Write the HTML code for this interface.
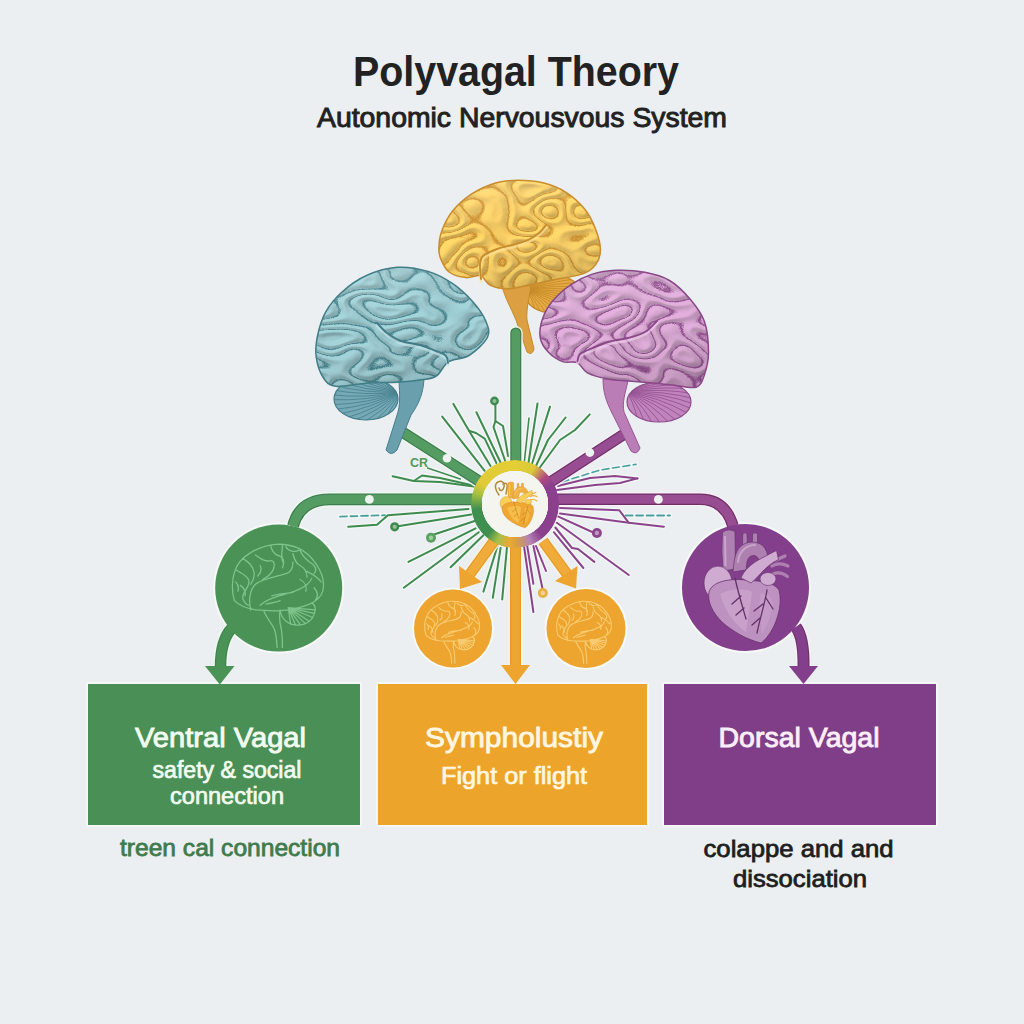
<!DOCTYPE html>
<html><head><meta charset="utf-8">
<style>
html,body{margin:0;padding:0;background:#ebeff1;}
body{width:1024px;height:1024px;overflow:hidden;position:relative;font-family:"Liberation Sans",sans-serif;}
svg{position:absolute;left:0;top:0;}
text{font-family:"Liberation Sans",sans-serif;}
.ring{position:absolute;left:471px;top:459.5px;width:88px;height:88px;border-radius:50%;
background:conic-gradient(from 0deg,#e4cf36 0deg,#dcc83a 28deg,#b04a80 48deg,#8b408d 62deg,#8b408d 140deg,#b585b5 158deg,#d8a040 178deg,#eca834 188deg,#a8c048 205deg,#3f8f4f 222deg,#3f8f4f 262deg,#a8c040 285deg,#e0ca38 300deg,#e4cf36 360deg);
-webkit-mask:radial-gradient(circle,transparent 0 33px,#000 33.5px);mask:radial-gradient(circle,transparent 0 33px,#000 33.5px);}
.inner{position:absolute;left:482px;top:470.5px;width:66px;height:66px;border-radius:50%;background:#f5f5f0;}
</style></head>
<body>
<svg width="1024" height="1024" viewBox="0 0 1024 1024">
<rect x="0" y="0" width="1024" height="1024" fill="#ebeff1"/>

<!-- title -->
<text x="353" y="86" font-size="42" font-weight="bold" fill="#222" textLength="326" lengthAdjust="spacingAndGlyphs">Polyvagal Theory</text>
<text x="317" y="126.5" font-size="27.5" fill="#222" stroke="#222" stroke-width="0.95" textLength="410" lengthAdjust="spacingAndGlyphs">Autonomic Nervousvous System</text>

<path d="M484.7 470.8 L442.2 416.6" stroke="#f8fbf8" stroke-width="4.6" fill="none" stroke-linecap="round" stroke-linejoin="round" opacity="0.7"/>
<path d="M490.5 466.0 L469.0 430.8 L453.4 403.9" stroke="#f8fbf8" stroke-width="4.6" fill="none" stroke-linecap="round" stroke-linejoin="round" opacity="0.7"/>
<path d="M496.4 463.0 L484.7 438.6 L476.0 433.0 L469.0 430.8" stroke="#f8fbf8" stroke-width="4.6" fill="none" stroke-linecap="round" stroke-linejoin="round" opacity="0.7"/>
<path d="M500.3 462.0 L476.4 412.2" stroke="#f8fbf8" stroke-width="4.6" fill="none" stroke-linecap="round" stroke-linejoin="round" opacity="0.7"/>
<path d="M505.2 461.0 L493.5 427.0 L495.4 421.0 L495.4 404.0" stroke="#f8fbf8" stroke-width="4.6" fill="none" stroke-linecap="round" stroke-linejoin="round" opacity="0.7"/>
<path d="M508.1 456.2 L503.0 426.0 L495.4 421.0" stroke="#f8fbf8" stroke-width="4.6" fill="none" stroke-linecap="round" stroke-linejoin="round" opacity="0.7"/>
<path d="M474.0 486.5 L440.0 482.0 L413.8 481.0 L392.6 476.2" stroke="#f8fbf8" stroke-width="4.6" fill="none" stroke-linecap="round" stroke-linejoin="round" opacity="0.7"/>
<path d="M471.3 485.0 L440.0 478.0 L422.0 475.5 L413.8 481.0" stroke="#f8fbf8" stroke-width="4.6" fill="none" stroke-linecap="round" stroke-linejoin="round" opacity="0.7"/>
<path d="M460.3 479.0 L427.5 468.0" stroke="#f8fbf8" stroke-width="4.0" fill="none" stroke-linecap="round" stroke-linejoin="round" opacity="0.7"/>
<path d="M340.0 516.6 L385.0 515.2" stroke="#f8fbf8" stroke-width="4.4" fill="none" stroke-linecap="round" stroke-linejoin="round" opacity="0.7"/>
<path d="M468.5 509.0 L387.9 515.2 L377.0 524.8 L348.2 526.8" stroke="#f8fbf8" stroke-width="4.6" fill="none" stroke-linecap="round" stroke-linejoin="round" opacity="0.7"/>
<path d="M471.3 514.5 L394.7 526.8" stroke="#f8fbf8" stroke-width="4.6" fill="none" stroke-linecap="round" stroke-linejoin="round" opacity="0.7"/>
<path d="M475.4 520.7 L430.2 535.7" stroke="#f8fbf8" stroke-width="4.6" fill="none" stroke-linecap="round" stroke-linejoin="round" opacity="0.7"/>
<path d="M475.6 528.3 L408.4 561.9" stroke="#f8fbf8" stroke-width="4.6" fill="none" stroke-linecap="round" stroke-linejoin="round" opacity="0.7"/>
<path d="M478.8 532.2 L403.8 587.7" stroke="#f8fbf8" stroke-width="4.6" fill="none" stroke-linecap="round" stroke-linejoin="round" opacity="0.7"/>
<path d="M483.4 535.3 L450.6 567.3" stroke="#f8fbf8" stroke-width="4.6" fill="none" stroke-linecap="round" stroke-linejoin="round" opacity="0.7"/>
<path d="M497.5 546.0 L483.4 591.6" stroke="#f8fbf8" stroke-width="4.6" fill="none" stroke-linecap="round" stroke-linejoin="round" opacity="0.7"/>
<path d="M500.6 547.8 L492.8 597.8" stroke="#f8fbf8" stroke-width="4.6" fill="none" stroke-linecap="round" stroke-linejoin="round" opacity="0.7"/>
<path d="M506.9 547.8 L502.2 599.4" stroke="#f8fbf8" stroke-width="4.6" fill="none" stroke-linecap="round" stroke-linejoin="round" opacity="0.7"/>
<path d="M528.0 466.0 L537.5 403.4" stroke="#f8fbf8" stroke-width="4.6" fill="none" stroke-linecap="round" stroke-linejoin="round" opacity="0.7"/>
<path d="M531.0 467.0 L550.0 406.6" stroke="#f8fbf8" stroke-width="4.6" fill="none" stroke-linecap="round" stroke-linejoin="round" opacity="0.7"/>
<path d="M535.0 468.0 L548.0 440.0 L565.6 417.5" stroke="#f8fbf8" stroke-width="4.6" fill="none" stroke-linecap="round" stroke-linejoin="round" opacity="0.7"/>
<path d="M538.0 470.0 L560.0 440.0 L575.0 430.0 L589.8 414.4" stroke="#f8fbf8" stroke-width="4.6" fill="none" stroke-linecap="round" stroke-linejoin="round" opacity="0.7"/>
<path d="M524.0 465.0 L529.0 418.0" stroke="#f8fbf8" stroke-width="4.2" fill="none" stroke-linecap="round" stroke-linejoin="round" opacity="0.7"/>
<path d="M557.8 486.0 L590.0 478.0 L615.0 476.0 L637.5 478.4" stroke="#f8fbf8" stroke-width="4.6" fill="none" stroke-linecap="round" stroke-linejoin="round" opacity="0.7"/>
<path d="M557.0 490.0 L595.0 485.0 L620.0 483.0 L637.5 478.4" stroke="#f8fbf8" stroke-width="4.6" fill="none" stroke-linecap="round" stroke-linejoin="round" opacity="0.7"/>
<path d="M562.0 482.0 L600.0 470.0 L636.0 464.4" stroke="#f8fbf8" stroke-width="4.2" fill="none" stroke-linecap="round" stroke-linejoin="round" opacity="0.7"/>
<path d="M560.0 508.0 L619.4 510.3 L628.8 522.8 L663.9 526.7" stroke="#f8fbf8" stroke-width="4.6" fill="none" stroke-linecap="round" stroke-linejoin="round" opacity="0.7"/>
<path d="M560.0 513.4 L628.8 522.8" stroke="#f8fbf8" stroke-width="4.6" fill="none" stroke-linecap="round" stroke-linejoin="round" opacity="0.7"/>
<path d="M625.6 515.5 L670.0 515.5" stroke="#f8fbf8" stroke-width="4.4" fill="none" stroke-linecap="round" stroke-linejoin="round" opacity="0.7"/>
<path d="M558.4 516.6 L594.4 533.0" stroke="#f8fbf8" stroke-width="4.6" fill="none" stroke-linecap="round" stroke-linejoin="round" opacity="0.7"/>
<path d="M556.9 522.8 L628.8 575.0" stroke="#f8fbf8" stroke-width="4.6" fill="none" stroke-linecap="round" stroke-linejoin="round" opacity="0.7"/>
<path d="M555.3 527.5 L572.0 548.0 L578.0 549.0 L594.4 561.9" stroke="#f8fbf8" stroke-width="4.6" fill="none" stroke-linecap="round" stroke-linejoin="round" opacity="0.7"/>
<path d="M553.8 532.2 L583.4 568.0" stroke="#f8fbf8" stroke-width="4.6" fill="none" stroke-linecap="round" stroke-linejoin="round" opacity="0.7"/>
<path d="M524.0 546.0 L533.4 612.0" stroke="#f8fbf8" stroke-width="4.6" fill="none" stroke-linecap="round" stroke-linejoin="round" opacity="0.7"/>
<path d="M527.2 546.0 L533.4 583.8" stroke="#f8fbf8" stroke-width="4.6" fill="none" stroke-linecap="round" stroke-linejoin="round" opacity="0.7"/>
<path d="M533.4 546.0 L542.8 590.0" stroke="#f8fbf8" stroke-width="4.6" fill="none" stroke-linecap="round" stroke-linejoin="round" opacity="0.7"/>
<path d="M536.0 546.0 L546.0 571.0" stroke="#f8fbf8" stroke-width="4.6" fill="none" stroke-linecap="round" stroke-linejoin="round" opacity="0.7"/>
<path d="M484.7 470.8 L442.2 416.6" stroke="#3f8b4f" stroke-width="2.0" fill="none" stroke-linecap="round" stroke-linejoin="round"/>
<path d="M490.5 466.0 L469.0 430.8 L453.4 403.9" stroke="#3f8b4f" stroke-width="2.0" fill="none" stroke-linecap="round" stroke-linejoin="round"/>
<path d="M496.4 463.0 L484.7 438.6 L476.0 433.0 L469.0 430.8" stroke="#3f8b4f" stroke-width="2.0" fill="none" stroke-linecap="round" stroke-linejoin="round"/>
<path d="M500.3 462.0 L476.4 412.2" stroke="#3f8b4f" stroke-width="2.0" fill="none" stroke-linecap="round" stroke-linejoin="round"/>
<path d="M505.2 461.0 L493.5 427.0 L495.4 421.0 L495.4 404.0" stroke="#3f8b4f" stroke-width="2.0" fill="none" stroke-linecap="round" stroke-linejoin="round"/>
<path d="M508.1 456.2 L503.0 426.0 L495.4 421.0" stroke="#3f8b4f" stroke-width="2.0" fill="none" stroke-linecap="round" stroke-linejoin="round"/>
<path d="M474.0 486.5 L440.0 482.0 L413.8 481.0 L392.6 476.2" stroke="#3f8b4f" stroke-width="2.0" fill="none" stroke-linecap="round" stroke-linejoin="round"/>
<path d="M471.3 485.0 L440.0 478.0 L422.0 475.5 L413.8 481.0" stroke="#3f8b4f" stroke-width="2.0" fill="none" stroke-linecap="round" stroke-linejoin="round"/>
<path d="M460.3 479.0 L427.5 468.0" stroke="#3f8b4f" stroke-width="1.4" fill="none" stroke-linecap="round" stroke-linejoin="round"/>
<path d="M340.0 516.6 L385.0 515.2" stroke="#4aa0a0" stroke-width="1.8" fill="none" stroke-linecap="round" stroke-linejoin="round" stroke-dasharray="7 3.5"/>
<path d="M468.5 509.0 L387.9 515.2 L377.0 524.8 L348.2 526.8" stroke="#3f8b4f" stroke-width="2.0" fill="none" stroke-linecap="round" stroke-linejoin="round"/>
<path d="M471.3 514.5 L394.7 526.8" stroke="#3f8b4f" stroke-width="2.0" fill="none" stroke-linecap="round" stroke-linejoin="round"/>
<path d="M475.4 520.7 L430.2 535.7" stroke="#3f8b4f" stroke-width="2.0" fill="none" stroke-linecap="round" stroke-linejoin="round"/>
<path d="M475.6 528.3 L408.4 561.9" stroke="#3f8b4f" stroke-width="2.0" fill="none" stroke-linecap="round" stroke-linejoin="round"/>
<path d="M478.8 532.2 L403.8 587.7" stroke="#3f8b4f" stroke-width="2.0" fill="none" stroke-linecap="round" stroke-linejoin="round"/>
<path d="M483.4 535.3 L450.6 567.3" stroke="#3f8b4f" stroke-width="2.0" fill="none" stroke-linecap="round" stroke-linejoin="round"/>
<path d="M497.5 546.0 L483.4 591.6" stroke="#3f8b4f" stroke-width="2.0" fill="none" stroke-linecap="round" stroke-linejoin="round"/>
<path d="M500.6 547.8 L492.8 597.8" stroke="#3f8b4f" stroke-width="2.0" fill="none" stroke-linecap="round" stroke-linejoin="round"/>
<path d="M506.9 547.8 L502.2 599.4" stroke="#3f8b4f" stroke-width="2.0" fill="none" stroke-linecap="round" stroke-linejoin="round"/>
<path d="M528.0 466.0 L537.5 403.4" stroke="#3f8b4f" stroke-width="2.0" fill="none" stroke-linecap="round" stroke-linejoin="round"/>
<path d="M531.0 467.0 L550.0 406.6" stroke="#3f8b4f" stroke-width="2.0" fill="none" stroke-linecap="round" stroke-linejoin="round"/>
<path d="M535.0 468.0 L548.0 440.0 L565.6 417.5" stroke="#3f8b4f" stroke-width="2.0" fill="none" stroke-linecap="round" stroke-linejoin="round"/>
<path d="M538.0 470.0 L560.0 440.0 L575.0 430.0 L589.8 414.4" stroke="#3f8b4f" stroke-width="2.0" fill="none" stroke-linecap="round" stroke-linejoin="round"/>
<path d="M524.0 465.0 L529.0 418.0" stroke="#3f8b4f" stroke-width="1.6" fill="none" stroke-linecap="round" stroke-linejoin="round"/>
<path d="M557.8 486.0 L590.0 478.0 L615.0 476.0 L637.5 478.4" stroke="#8b448c" stroke-width="2.0" fill="none" stroke-linecap="round" stroke-linejoin="round"/>
<path d="M557.0 490.0 L595.0 485.0 L620.0 483.0 L637.5 478.4" stroke="#8b448c" stroke-width="2.0" fill="none" stroke-linecap="round" stroke-linejoin="round"/>
<path d="M562.0 482.0 L600.0 470.0 L636.0 464.4" stroke="#4aa0a0" stroke-width="1.6" fill="none" stroke-linecap="round" stroke-linejoin="round" stroke-dasharray="7 3.5"/>
<path d="M560.0 508.0 L619.4 510.3 L628.8 522.8 L663.9 526.7" stroke="#8b448c" stroke-width="2.0" fill="none" stroke-linecap="round" stroke-linejoin="round"/>
<path d="M560.0 513.4 L628.8 522.8" stroke="#8b448c" stroke-width="2.0" fill="none" stroke-linecap="round" stroke-linejoin="round"/>
<path d="M625.6 515.5 L670.0 515.5" stroke="#4aa0a0" stroke-width="1.8" fill="none" stroke-linecap="round" stroke-linejoin="round" stroke-dasharray="7 3.5"/>
<path d="M558.4 516.6 L594.4 533.0" stroke="#8b448c" stroke-width="2.0" fill="none" stroke-linecap="round" stroke-linejoin="round"/>
<path d="M556.9 522.8 L628.8 575.0" stroke="#8b448c" stroke-width="2.0" fill="none" stroke-linecap="round" stroke-linejoin="round"/>
<path d="M555.3 527.5 L572.0 548.0 L578.0 549.0 L594.4 561.9" stroke="#8b448c" stroke-width="2.0" fill="none" stroke-linecap="round" stroke-linejoin="round"/>
<path d="M553.8 532.2 L583.4 568.0" stroke="#8b448c" stroke-width="2.0" fill="none" stroke-linecap="round" stroke-linejoin="round"/>
<path d="M524.0 546.0 L533.4 612.0" stroke="#8b448c" stroke-width="2.0" fill="none" stroke-linecap="round" stroke-linejoin="round"/>
<path d="M527.2 546.0 L533.4 583.8" stroke="#8b448c" stroke-width="2.0" fill="none" stroke-linecap="round" stroke-linejoin="round"/>
<path d="M533.4 546.0 L542.8 590.0" stroke="#8b448c" stroke-width="2.0" fill="none" stroke-linecap="round" stroke-linejoin="round"/>
<path d="M536.0 546.0 L546.0 571.0" stroke="#8b448c" stroke-width="2.0" fill="none" stroke-linecap="round" stroke-linejoin="round"/>
<circle cx="494.5" cy="401" r="4.4" fill="#3f8b4f"/><circle cx="494.5" cy="401" r="2.0" fill="#ffffff" opacity="0.45"/>
<circle cx="394.7" cy="526.8" r="4.6" fill="#3f8b4f"/><circle cx="394.7" cy="526.8" r="2.1" fill="#ffffff" opacity="0.45"/>
<circle cx="431" cy="537.7" r="5" fill="#5aa25f"/><circle cx="431" cy="537.7" r="2.2" fill="#ffffff" opacity="0.45"/>
<circle cx="596.9" cy="533" r="5" fill="#8b448c"/><circle cx="596.9" cy="533" r="2.2" fill="#ffffff" opacity="0.45"/>
<circle cx="542.8" cy="593" r="5" fill="#e8b040"/><circle cx="542.8" cy="593" r="2.2" fill="#ffffff" opacity="0.45"/>
<text x="410" y="467" font-size="12.5" font-weight="bold" fill="#4f9a5c" textLength="18" lengthAdjust="spacingAndGlyphs">CR</text>
<path d="M400 430.5 L482 483" fill="none" stroke="#eef9ef" stroke-width="14.5" stroke-linecap="butt" opacity="0.85"/><path d="M400 430.5 L482 483" fill="none" stroke="#3d7b50" stroke-width="11.5" stroke-linecap="butt"/><path d="M400 430.5 L482 483" fill="none" stroke="#559c63" stroke-width="9.1" stroke-linecap="butt"/><path d="M629 431 L549 483" fill="none" stroke="#fbeef9" stroke-width="14.5" stroke-linecap="butt" opacity="0.85"/><path d="M629 431 L549 483" fill="none" stroke="#6d3066" stroke-width="11.5" stroke-linecap="butt"/><path d="M629 431 L549 483" fill="none" stroke="#984c92" stroke-width="9.1" stroke-linecap="butt"/>
<clipPath id="ccy"><ellipse cx="553" cy="294" rx="28" ry="19"/></clipPath><ellipse cx="553" cy="294" rx="28" ry="19" fill="#e6aa45"/><g clip-path="url(#ccy)" stroke="#bf8424" stroke-width="0.9" fill="none" opacity="0.85"><path d="M527 290 Q537.4 307.8 536.6 327.2"/><path d="M527 290 Q540.9 306.7 544.0 326.2"/><path d="M527 290 Q544.3 305.4 551.2 324.6"/><path d="M527 290 Q547.3 303.8 557.9 322.5"/><path d="M527 290 Q550.1 302.0 564.2 320.0"/><path d="M527 290 Q552.5 300.0 570.0 317.0"/><path d="M527 290 Q554.6 297.9 575.0 313.5"/><path d="M527 290 Q556.2 295.7 579.4 309.8"/><path d="M527 290 Q557.3 293.4 583.0 305.7"/><path d="M527 290 Q558.1 291.0 585.7 301.4"/><path d="M527 290 Q558.3 288.6 587.6 296.9"/><path d="M527 290 Q558.1 286.2 588.5 292.3"/><path d="M527 290 Q557.4 283.9 588.5 287.7"/><path d="M527 290 Q556.2 281.7 587.6 283.1"/><path d="M527 290 Q554.6 279.6 585.7 278.6"/><path d="M527 290 Q552.6 277.7 583.0 274.3"/><path d="M527 290 Q550.2 275.9 579.4 270.2"/><path d="M527 290 Q547.5 274.4 575.0 266.5"/><path d="M527 290 Q544.4 273.1 570.0 263.0"/><path d="M527 290 Q541.1 272.0 564.2 260.0"/><path d="M527 290 Q537.6 271.3 557.9 257.5"/><path d="M527 290 Q533.9 270.8 551.2 255.4"/><path d="M527 290 Q530.1 270.6 544.0 253.8"/><path d="M527 290 Q526.2 270.7 536.6 252.8"/></g><ellipse cx="553" cy="294" rx="28" ry="19" fill="none" stroke="#bf8424" stroke-width="1.2"/>
<path d="M502 286 L531 286 C529 298 526 310 527 320 L534 349 Q532 356 527 352 L516 320 C510 306 505 298 502 286 Z" fill="#dca043" stroke="#c68a2a" stroke-width="1"/>
<clipPath id="cy"><path d="M438.9 247.9 C439.0 243.3 439.4 237.4 441.7 231.2 C444.0 225.0 447.9 217.0 452.8 210.8 C457.8 204.6 464.3 198.7 471.4 194.1 C478.5 189.5 487.8 185.3 495.5 183.0 C503.2 180.7 509.7 180.2 517.8 180.2 C525.8 180.2 535.8 181.0 543.8 183.0 C551.8 185.0 559.2 188.0 566.0 192.3 C572.8 196.6 579.6 202.8 584.6 209.0 C589.6 215.2 593.1 222.6 595.7 229.4 C598.3 236.2 600.4 243.9 600.4 249.8 C600.4 255.7 598.7 260.6 595.7 264.6 C592.8 268.6 589.5 271.4 582.7 273.9 C575.9 276.4 563.9 277.6 554.9 279.5 C545.9 281.4 536.6 283.4 528.9 285.0 C521.2 286.6 515.0 288.8 508.5 288.8 C502.0 288.8 494.6 287.2 490.0 285.0 C485.4 282.8 484.7 277.0 480.7 275.8 C476.7 274.6 471.1 278.2 465.8 277.6 C460.5 277.0 453.3 275.1 449.1 272.0 C444.9 268.9 442.5 263.0 440.8 259.0 C439.1 255.0 438.8 252.5 438.9 247.9 Z"/></clipPath>
<filter id="cyf" x="436.9" y="178.2" width="165.5" height="112.60000000000002" filterUnits="userSpaceOnUse" color-interpolation-filters="sRGB">
 <feTurbulence type="fractalNoise" baseFrequency="0.0256 0.0400" numOctaves="1" seed="2" result="n"/>
 <feColorMatrix in="n" type="matrix" values="0 0 0 0 0  0 0 0 0 0  0 0 0 0 0  1.8 0 0 0 -0.4" result="a"/>
 <feComponentTransfer in="a" result="h"><feFuncA type="table" tableValues="0 1 0 1 0 1 0 1 0"/></feComponentTransfer>
 <feGaussianBlur in="h" stdDeviation="1.2" result="hb"/>
 <feDiffuseLighting in="hb" surfaceScale="2" diffuseConstant="1.1" lighting-color="#ffffff" result="lt"><feDistantLight azimuth="235" elevation="48"/></feDiffuseLighting>
 <feColorMatrix in="lt" type="matrix" values="0.328 0 0 0 0.704  0.271 0 0 0 0.581  0.131 0 0 0 0.281  0 0 0 0 1" result="shade"/>
 <feComponentTransfer in="a" result="vl"><feFuncA type="table" tableValues="0 0 0 0 0 0 0 0 0 0 0 0 0 0.55 1 0.55 0 0 0 0 0 0 0 0 0 0 0 0.55 1 0.55 0 0 0 0 0 0 0 0 0 0 0 0.55 1 0.55 0 0 0 0 0 0 0 0 0 0 0 0 0"/></feComponentTransfer>
 <feFlood flood-color="#c98c2c" result="c"/>
 <feComposite in="c" in2="vl" operator="in" result="dl"/>
 <feMerge><feMergeNode in="shade"/><feMergeNode in="dl"/></feMerge>
</filter>
<path d="M438.9 247.9 C439.0 243.3 439.4 237.4 441.7 231.2 C444.0 225.0 447.9 217.0 452.8 210.8 C457.8 204.6 464.3 198.7 471.4 194.1 C478.5 189.5 487.8 185.3 495.5 183.0 C503.2 180.7 509.7 180.2 517.8 180.2 C525.8 180.2 535.8 181.0 543.8 183.0 C551.8 185.0 559.2 188.0 566.0 192.3 C572.8 196.6 579.6 202.8 584.6 209.0 C589.6 215.2 593.1 222.6 595.7 229.4 C598.3 236.2 600.4 243.9 600.4 249.8 C600.4 255.7 598.7 260.6 595.7 264.6 C592.8 268.6 589.5 271.4 582.7 273.9 C575.9 276.4 563.9 277.6 554.9 279.5 C545.9 281.4 536.6 283.4 528.9 285.0 C521.2 286.6 515.0 288.8 508.5 288.8 C502.0 288.8 494.6 287.2 490.0 285.0 C485.4 282.8 484.7 277.0 480.7 275.8 C476.7 274.6 471.1 278.2 465.8 277.6 C460.5 277.0 453.3 275.1 449.1 272.0 C444.9 268.9 442.5 263.0 440.8 259.0 C439.1 255.0 438.8 252.5 438.9 247.9 Z" fill="#f6cb62"/>
<g clip-path="url(#cy)"><rect x="436.9" y="178.2" width="165.5" height="112.60000000000002" filter="url(#cyf)"/></g>
<linearGradient id="cyg" x1="0" y1="0" x2="0.3" y2="1"><stop offset="0" stop-color="#fff" stop-opacity="0.16"/><stop offset="0.55" stop-color="#fff" stop-opacity="0"/><stop offset="1" stop-color="#000" stop-opacity="0.10"/></linearGradient>
<path d="M438.9 247.9 C439.0 243.3 439.4 237.4 441.7 231.2 C444.0 225.0 447.9 217.0 452.8 210.8 C457.8 204.6 464.3 198.7 471.4 194.1 C478.5 189.5 487.8 185.3 495.5 183.0 C503.2 180.7 509.7 180.2 517.8 180.2 C525.8 180.2 535.8 181.0 543.8 183.0 C551.8 185.0 559.2 188.0 566.0 192.3 C572.8 196.6 579.6 202.8 584.6 209.0 C589.6 215.2 593.1 222.6 595.7 229.4 C598.3 236.2 600.4 243.9 600.4 249.8 C600.4 255.7 598.7 260.6 595.7 264.6 C592.8 268.6 589.5 271.4 582.7 273.9 C575.9 276.4 563.9 277.6 554.9 279.5 C545.9 281.4 536.6 283.4 528.9 285.0 C521.2 286.6 515.0 288.8 508.5 288.8 C502.0 288.8 494.6 287.2 490.0 285.0 C485.4 282.8 484.7 277.0 480.7 275.8 C476.7 274.6 471.1 278.2 465.8 277.6 C460.5 277.0 453.3 275.1 449.1 272.0 C444.9 268.9 442.5 263.0 440.8 259.0 C439.1 255.0 438.8 252.5 438.9 247.9 Z" fill="url(#cyg)"/>
<path d="M438.9 247.9 C439.0 243.3 439.4 237.4 441.7 231.2 C444.0 225.0 447.9 217.0 452.8 210.8 C457.8 204.6 464.3 198.7 471.4 194.1 C478.5 189.5 487.8 185.3 495.5 183.0 C503.2 180.7 509.7 180.2 517.8 180.2 C525.8 180.2 535.8 181.0 543.8 183.0 C551.8 185.0 559.2 188.0 566.0 192.3 C572.8 196.6 579.6 202.8 584.6 209.0 C589.6 215.2 593.1 222.6 595.7 229.4 C598.3 236.2 600.4 243.9 600.4 249.8 C600.4 255.7 598.7 260.6 595.7 264.6 C592.8 268.6 589.5 271.4 582.7 273.9 C575.9 276.4 563.9 277.6 554.9 279.5 C545.9 281.4 536.6 283.4 528.9 285.0 C521.2 286.6 515.0 288.8 508.5 288.8 C502.0 288.8 494.6 287.2 490.0 285.0 C485.4 282.8 484.7 277.0 480.7 275.8 C476.7 274.6 471.1 278.2 465.8 277.6 C460.5 277.0 453.3 275.1 449.1 272.0 C444.9 268.9 442.5 263.0 440.8 259.0 C439.1 255.0 438.8 252.5 438.9 247.9 Z" fill="none" stroke="#c98c2c" stroke-width="1.5"/>

<path d="M481.0 279.0 C480.8 276.5 479.7 267.8 480.0 264.0 C480.3 260.2 480.2 258.5 483.0 256.0 C485.8 253.5 491.8 250.9 497.0 249.0 C502.2 247.1 508.8 246.0 514.0 244.5 C519.2 243.0 523.8 241.9 528.0 240.0 C532.2 238.1 536.0 235.5 539.0 233.0 C542.0 230.5 544.8 226.3 546.0 225.0" fill="none" stroke="#fde39a" stroke-width="3" stroke-linecap="round" transform="translate(0 2.2)" opacity="0.7"/><path d="M481.0 279.0 C480.8 276.5 479.7 267.8 480.0 264.0 C480.3 260.2 480.2 258.5 483.0 256.0 C485.8 253.5 491.8 250.9 497.0 249.0 C502.2 247.1 508.8 246.0 514.0 244.5 C519.2 243.0 523.8 241.9 528.0 240.0 C532.2 238.1 536.0 235.5 539.0 233.0 C542.0 230.5 544.8 226.3 546.0 225.0" fill="none" stroke="#c98c2c" stroke-width="1.9" stroke-linecap="round"/>
<clipPath id="ccb"><ellipse cx="366" cy="399" rx="32" ry="21"/></clipPath><ellipse cx="366" cy="399" rx="32" ry="21" fill="#76a9b5"/><g clip-path="url(#ccb)" stroke="#437d8b" stroke-width="0.9" fill="none" opacity="0.85"><path d="M400 392 Q400.7 413.4 389.0 433.1"/><path d="M400 392 Q396.3 413.5 380.5 432.0"/><path d="M400 392 Q391.9 413.3 372.4 430.2"/><path d="M400 392 Q387.7 412.8 364.7 428.0"/><path d="M400 392 Q383.7 412.0 357.5 425.1"/><path d="M400 392 Q379.9 410.8 350.9 421.8"/><path d="M400 392 Q376.4 409.4 345.1 418.0"/><path d="M400 392 Q373.3 407.7 340.1 413.8"/><path d="M400 392 Q370.6 405.8 336.0 409.3"/><path d="M400 392 Q368.3 403.7 332.9 404.6"/><path d="M400 392 Q366.5 401.3 330.8 399.6"/><path d="M400 392 Q365.2 398.9 329.7 394.6"/><path d="M400 392 Q364.5 396.3 329.7 389.4"/><path d="M400 392 Q364.3 393.7 330.8 384.4"/><path d="M400 392 Q364.6 391.1 332.9 379.4"/><path d="M400 392 Q365.4 388.4 336.0 374.7"/><path d="M400 392 Q366.8 385.9 340.1 370.2"/><path d="M400 392 Q368.6 383.4 345.1 366.0"/><path d="M400 392 Q371.0 381.0 350.9 362.2"/><path d="M400 392 Q373.8 378.8 357.5 358.9"/><path d="M400 392 Q376.9 376.8 364.7 356.0"/><path d="M400 392 Q380.5 375.1 372.4 353.8"/><path d="M400 392 Q384.3 373.6 380.5 352.0"/><path d="M400 392 Q388.3 372.3 389.0 350.9"/></g><ellipse cx="366" cy="399" rx="32" ry="21" fill="none" stroke="#437d8b" stroke-width="1.2"/>
<path d="M399 376 L424 376 C424 392 419 404 411 415 L397 450 Q391 457 386 450 L398 412 C401 400 399 390 399 376 Z" fill="#6aa0ae" stroke="#457f8d" stroke-width="1"/>
<clipPath id="cb"><path d="M487.6 337.0 C484.9 342.8 475.5 351.4 469.0 355.5 C462.5 359.6 454.1 358.3 448.6 361.7 C443.2 365.1 441.1 372.9 436.3 376.0 C431.5 379.1 426.4 379.0 419.9 380.0 C413.4 381.0 406.2 381.7 397.3 382.2 C388.4 382.7 376.8 382.5 366.5 383.2 C356.2 383.9 343.0 387.2 335.8 386.3 C328.6 385.4 326.8 382.8 323.5 378.0 C320.2 373.2 317.3 364.4 316.3 357.6 C315.3 350.8 315.8 344.5 317.3 337.0 C318.8 329.5 321.4 319.9 325.5 312.4 C329.6 304.9 335.2 298.1 342.0 292.0 C348.8 285.9 357.3 279.6 366.5 275.5 C375.7 271.4 387.1 268.0 397.3 267.3 C407.6 266.6 418.8 268.7 428.0 271.4 C437.2 274.1 445.2 278.6 452.7 283.7 C460.2 288.8 467.7 296.0 473.2 302.2 C478.7 308.4 483.1 314.8 485.5 320.6 C487.9 326.4 490.4 331.2 487.6 337.0 Z"/></clipPath>
<filter id="cbf" x="314.3" y="265.3" width="175.3" height="123.0" filterUnits="userSpaceOnUse" color-interpolation-filters="sRGB">
 <feTurbulence type="fractalNoise" baseFrequency="0.0256 0.0400" numOctaves="1" seed="1" result="n"/>
 <feColorMatrix in="n" type="matrix" values="0 0 0 0 0  0 0 0 0 0  0 0 0 0 0  1.8 0 0 0 -0.4" result="a"/>
 <feComponentTransfer in="a" result="h"><feFuncA type="table" tableValues="0 1 0 1 0 1 0 1 0"/></feComponentTransfer>
 <feGaussianBlur in="h" stdDeviation="1.2" result="hb"/>
 <feDiffuseLighting in="hb" surfaceScale="2" diffuseConstant="1.1" lighting-color="#ffffff" result="lt"><feDistantLight azimuth="235" elevation="48"/></feDiffuseLighting>
 <feColorMatrix in="lt" type="matrix" values="0.203 0 0 0 0.435  0.264 0 0 0 0.567  0.272 0 0 0 0.584  0 0 0 0 1" result="shade"/>
 <feComponentTransfer in="a" result="vl"><feFuncA type="table" tableValues="0 0 0 0 0 0 0 0 0 0 0 0 0 0.55 1 0.55 0 0 0 0 0 0 0 0 0 0 0 0.55 1 0.55 0 0 0 0 0 0 0 0 0 0 0 0.55 1 0.55 0 0 0 0 0 0 0 0 0 0 0 0 0"/></feComponentTransfer>
 <feFlood flood-color="#417d87" result="c"/>
 <feComposite in="c" in2="vl" operator="in" result="dl"/>
 <feMerge><feMergeNode in="shade"/><feMergeNode in="dl"/></feMerge>
</filter>
<path d="M487.6 337.0 C484.9 342.8 475.5 351.4 469.0 355.5 C462.5 359.6 454.1 358.3 448.6 361.7 C443.2 365.1 441.1 372.9 436.3 376.0 C431.5 379.1 426.4 379.0 419.9 380.0 C413.4 381.0 406.2 381.7 397.3 382.2 C388.4 382.7 376.8 382.5 366.5 383.2 C356.2 383.9 343.0 387.2 335.8 386.3 C328.6 385.4 326.8 382.8 323.5 378.0 C320.2 373.2 317.3 364.4 316.3 357.6 C315.3 350.8 315.8 344.5 317.3 337.0 C318.8 329.5 321.4 319.9 325.5 312.4 C329.6 304.9 335.2 298.1 342.0 292.0 C348.8 285.9 357.3 279.6 366.5 275.5 C375.7 271.4 387.1 268.0 397.3 267.3 C407.6 266.6 418.8 268.7 428.0 271.4 C437.2 274.1 445.2 278.6 452.7 283.7 C460.2 288.8 467.7 296.0 473.2 302.2 C478.7 308.4 483.1 314.8 485.5 320.6 C487.9 326.4 490.4 331.2 487.6 337.0 Z" fill="#98c6cc"/>
<g clip-path="url(#cb)"><rect x="314.3" y="265.3" width="175.3" height="123.0" filter="url(#cbf)"/></g>
<linearGradient id="cbg" x1="0" y1="0" x2="0.3" y2="1"><stop offset="0" stop-color="#fff" stop-opacity="0.16"/><stop offset="0.55" stop-color="#fff" stop-opacity="0"/><stop offset="1" stop-color="#000" stop-opacity="0.10"/></linearGradient>
<path d="M487.6 337.0 C484.9 342.8 475.5 351.4 469.0 355.5 C462.5 359.6 454.1 358.3 448.6 361.7 C443.2 365.1 441.1 372.9 436.3 376.0 C431.5 379.1 426.4 379.0 419.9 380.0 C413.4 381.0 406.2 381.7 397.3 382.2 C388.4 382.7 376.8 382.5 366.5 383.2 C356.2 383.9 343.0 387.2 335.8 386.3 C328.6 385.4 326.8 382.8 323.5 378.0 C320.2 373.2 317.3 364.4 316.3 357.6 C315.3 350.8 315.8 344.5 317.3 337.0 C318.8 329.5 321.4 319.9 325.5 312.4 C329.6 304.9 335.2 298.1 342.0 292.0 C348.8 285.9 357.3 279.6 366.5 275.5 C375.7 271.4 387.1 268.0 397.3 267.3 C407.6 266.6 418.8 268.7 428.0 271.4 C437.2 274.1 445.2 278.6 452.7 283.7 C460.2 288.8 467.7 296.0 473.2 302.2 C478.7 308.4 483.1 314.8 485.5 320.6 C487.9 326.4 490.4 331.2 487.6 337.0 Z" fill="url(#cbg)"/>
<path d="M487.6 337.0 C484.9 342.8 475.5 351.4 469.0 355.5 C462.5 359.6 454.1 358.3 448.6 361.7 C443.2 365.1 441.1 372.9 436.3 376.0 C431.5 379.1 426.4 379.0 419.9 380.0 C413.4 381.0 406.2 381.7 397.3 382.2 C388.4 382.7 376.8 382.5 366.5 383.2 C356.2 383.9 343.0 387.2 335.8 386.3 C328.6 385.4 326.8 382.8 323.5 378.0 C320.2 373.2 317.3 364.4 316.3 357.6 C315.3 350.8 315.8 344.5 317.3 337.0 C318.8 329.5 321.4 319.9 325.5 312.4 C329.6 304.9 335.2 298.1 342.0 292.0 C348.8 285.9 357.3 279.6 366.5 275.5 C375.7 271.4 387.1 268.0 397.3 267.3 C407.6 266.6 418.8 268.7 428.0 271.4 C437.2 274.1 445.2 278.6 452.7 283.7 C460.2 288.8 467.7 296.0 473.2 302.2 C478.7 308.4 483.1 314.8 485.5 320.6 C487.9 326.4 490.4 331.2 487.6 337.0 Z" fill="none" stroke="#417d87" stroke-width="1.5"/>

<path d="M448.0 363.0 C447.7 361.8 448.0 358.0 446.0 356.0 C444.0 354.0 440.3 352.8 436.0 351.0 C431.7 349.2 425.8 346.7 420.0 345.0 C414.2 343.3 406.5 343.0 401.0 341.0 C395.5 339.0 391.0 336.0 387.0 333.0 C383.0 330.0 378.7 324.7 377.0 323.0" fill="none" stroke="#c4e4ea" stroke-width="3" stroke-linecap="round" transform="translate(0 2.2)" opacity="0.7"/><path d="M448.0 363.0 C447.7 361.8 448.0 358.0 446.0 356.0 C444.0 354.0 440.3 352.8 436.0 351.0 C431.7 349.2 425.8 346.7 420.0 345.0 C414.2 343.3 406.5 343.0 401.0 341.0 C395.5 339.0 391.0 336.0 387.0 333.0 C383.0 330.0 378.7 324.7 377.0 323.0" fill="none" stroke="#417d87" stroke-width="1.9" stroke-linecap="round"/>
<clipPath id="ccp"><ellipse cx="659" cy="402" rx="32" ry="20"/></clipPath><ellipse cx="659" cy="402" rx="32" ry="20" fill="#c083bb"/><g clip-path="url(#ccp)" stroke="#8e4b8c" stroke-width="0.9" fill="none" opacity="0.85"><path d="M627 392 Q638.4 410.7 638.0 431.1"/><path d="M627 392 Q642.4 409.5 646.5 430.1"/><path d="M627 392 Q646.3 408.0 654.6 428.4"/><path d="M627 392 Q649.8 406.3 662.3 426.2"/><path d="M627 392 Q653.0 404.4 669.5 423.6"/><path d="M627 392 Q655.8 402.3 676.1 420.4"/><path d="M627 392 Q658.2 400.0 681.9 416.8"/><path d="M627 392 Q660.1 397.6 686.9 412.8"/><path d="M627 392 Q661.5 395.1 691.0 408.5"/><path d="M627 392 Q662.3 392.6 694.1 404.0"/><path d="M627 392 Q662.7 390.1 696.2 399.3"/><path d="M627 392 Q662.5 387.6 697.3 394.4"/><path d="M627 392 Q661.8 385.2 697.3 389.6"/><path d="M627 392 Q660.5 382.8 696.2 384.7"/><path d="M627 392 Q658.8 380.6 694.1 380.0"/><path d="M627 392 Q656.5 378.6 691.0 375.5"/><path d="M627 392 Q653.8 376.8 686.9 371.2"/><path d="M627 392 Q650.7 375.2 681.9 367.2"/><path d="M627 392 Q647.3 373.9 676.1 363.6"/><path d="M627 392 Q643.5 372.8 669.5 360.4"/><path d="M627 392 Q639.5 372.0 662.3 357.8"/><path d="M627 392 Q635.3 371.6 654.6 355.6"/><path d="M627 392 Q631.0 371.4 646.5 353.9"/><path d="M627 392 Q626.6 371.6 638.0 352.9"/></g><ellipse cx="659" cy="402" rx="32" ry="20" fill="none" stroke="#8e4b8c" stroke-width="1.2"/>
<path d="M603 379 L628 381 C625 394 622 402 624 412 L640 448 Q637 456 631 451 L612 413 C606 401 603 392 603 379 Z" fill="#bb7db6" stroke="#995596" stroke-width="1"/>
<clipPath id="cp"><path d="M540.3 338.0 C539.3 332.5 540.2 325.7 542.3 319.5 C544.3 313.3 547.8 306.8 552.6 301.0 C557.4 295.2 564.5 289.0 571.0 284.6 C577.5 280.2 584.1 276.8 591.6 274.4 C599.1 272.0 607.3 270.6 616.2 270.3 C625.1 270.0 636.0 270.6 644.9 272.3 C653.8 274.0 662.0 276.1 669.5 280.5 C677.0 284.9 684.2 292.2 690.0 299.0 C695.8 305.8 701.3 312.6 704.4 321.5 C707.5 330.4 708.5 343.4 708.5 352.3 C708.5 361.2 706.4 369.1 704.4 374.9 C702.4 380.7 701.3 385.5 696.2 387.2 C691.1 388.9 680.8 385.9 673.6 385.2 C666.4 384.5 660.6 383.8 653.1 383.1 C645.6 382.4 636.0 381.7 628.5 381.0 C621.0 380.3 614.9 380.4 608.0 379.0 C601.1 377.6 592.5 375.5 587.4 372.8 C582.3 370.1 581.3 364.5 577.2 362.6 C573.1 360.7 567.6 363.3 562.8 361.6 C558.0 359.9 552.2 356.2 548.5 352.3 C544.8 348.4 541.3 343.5 540.3 338.0 Z"/></clipPath>
<filter id="cpf" x="538.3" y="268.3" width="172.20000000000005" height="120.89999999999998" filterUnits="userSpaceOnUse" color-interpolation-filters="sRGB">
 <feTurbulence type="fractalNoise" baseFrequency="0.0256 0.0400" numOctaves="1" seed="3" result="n"/>
 <feColorMatrix in="n" type="matrix" values="0 0 0 0 0  0 0 0 0 0  0 0 0 0 0  1.8 0 0 0 -0.4" result="a"/>
 <feComponentTransfer in="a" result="h"><feFuncA type="table" tableValues="0 1 0 1 0 1 0 1 0"/></feComponentTransfer>
 <feGaussianBlur in="h" stdDeviation="1.2" result="hb"/>
 <feDiffuseLighting in="hb" surfaceScale="2" diffuseConstant="1.1" lighting-color="#ffffff" result="lt"><feDistantLight azimuth="235" elevation="48"/></feDiffuseLighting>
 <feColorMatrix in="lt" type="matrix" values="0.283 0 0 0 0.607  0.219 0 0 0 0.469  0.275 0 0 0 0.590  0 0 0 0 1" result="shade"/>
 <feComponentTransfer in="a" result="vl"><feFuncA type="table" tableValues="0 0 0 0 0 0 0 0 0 0 0 0 0 0.55 1 0.55 0 0 0 0 0 0 0 0 0 0 0 0.55 1 0.55 0 0 0 0 0 0 0 0 0 0 0 0.55 1 0.55 0 0 0 0 0 0 0 0 0 0 0 0 0"/></feComponentTransfer>
 <feFlood flood-color="#8a4888" result="c"/>
 <feComposite in="c" in2="vl" operator="in" result="dl"/>
 <feMerge><feMergeNode in="shade"/><feMergeNode in="dl"/></feMerge>
</filter>
<path d="M540.3 338.0 C539.3 332.5 540.2 325.7 542.3 319.5 C544.3 313.3 547.8 306.8 552.6 301.0 C557.4 295.2 564.5 289.0 571.0 284.6 C577.5 280.2 584.1 276.8 591.6 274.4 C599.1 272.0 607.3 270.6 616.2 270.3 C625.1 270.0 636.0 270.6 644.9 272.3 C653.8 274.0 662.0 276.1 669.5 280.5 C677.0 284.9 684.2 292.2 690.0 299.0 C695.8 305.8 701.3 312.6 704.4 321.5 C707.5 330.4 708.5 343.4 708.5 352.3 C708.5 361.2 706.4 369.1 704.4 374.9 C702.4 380.7 701.3 385.5 696.2 387.2 C691.1 388.9 680.8 385.9 673.6 385.2 C666.4 384.5 660.6 383.8 653.1 383.1 C645.6 382.4 636.0 381.7 628.5 381.0 C621.0 380.3 614.9 380.4 608.0 379.0 C601.1 377.6 592.5 375.5 587.4 372.8 C582.3 370.1 581.3 364.5 577.2 362.6 C573.1 360.7 567.6 363.3 562.8 361.6 C558.0 359.9 552.2 356.2 548.5 352.3 C544.8 348.4 541.3 343.5 540.3 338.0 Z" fill="#d4a4ce"/>
<g clip-path="url(#cp)"><rect x="538.3" y="268.3" width="172.20000000000005" height="120.89999999999998" filter="url(#cpf)"/></g>
<linearGradient id="cpg" x1="0" y1="0" x2="0.3" y2="1"><stop offset="0" stop-color="#fff" stop-opacity="0.16"/><stop offset="0.55" stop-color="#fff" stop-opacity="0"/><stop offset="1" stop-color="#000" stop-opacity="0.10"/></linearGradient>
<path d="M540.3 338.0 C539.3 332.5 540.2 325.7 542.3 319.5 C544.3 313.3 547.8 306.8 552.6 301.0 C557.4 295.2 564.5 289.0 571.0 284.6 C577.5 280.2 584.1 276.8 591.6 274.4 C599.1 272.0 607.3 270.6 616.2 270.3 C625.1 270.0 636.0 270.6 644.9 272.3 C653.8 274.0 662.0 276.1 669.5 280.5 C677.0 284.9 684.2 292.2 690.0 299.0 C695.8 305.8 701.3 312.6 704.4 321.5 C707.5 330.4 708.5 343.4 708.5 352.3 C708.5 361.2 706.4 369.1 704.4 374.9 C702.4 380.7 701.3 385.5 696.2 387.2 C691.1 388.9 680.8 385.9 673.6 385.2 C666.4 384.5 660.6 383.8 653.1 383.1 C645.6 382.4 636.0 381.7 628.5 381.0 C621.0 380.3 614.9 380.4 608.0 379.0 C601.1 377.6 592.5 375.5 587.4 372.8 C582.3 370.1 581.3 364.5 577.2 362.6 C573.1 360.7 567.6 363.3 562.8 361.6 C558.0 359.9 552.2 356.2 548.5 352.3 C544.8 348.4 541.3 343.5 540.3 338.0 Z" fill="url(#cpg)"/>
<path d="M540.3 338.0 C539.3 332.5 540.2 325.7 542.3 319.5 C544.3 313.3 547.8 306.8 552.6 301.0 C557.4 295.2 564.5 289.0 571.0 284.6 C577.5 280.2 584.1 276.8 591.6 274.4 C599.1 272.0 607.3 270.6 616.2 270.3 C625.1 270.0 636.0 270.6 644.9 272.3 C653.8 274.0 662.0 276.1 669.5 280.5 C677.0 284.9 684.2 292.2 690.0 299.0 C695.8 305.8 701.3 312.6 704.4 321.5 C707.5 330.4 708.5 343.4 708.5 352.3 C708.5 361.2 706.4 369.1 704.4 374.9 C702.4 380.7 701.3 385.5 696.2 387.2 C691.1 388.9 680.8 385.9 673.6 385.2 C666.4 384.5 660.6 383.8 653.1 383.1 C645.6 382.4 636.0 381.7 628.5 381.0 C621.0 380.3 614.9 380.4 608.0 379.0 C601.1 377.6 592.5 375.5 587.4 372.8 C582.3 370.1 581.3 364.5 577.2 362.6 C573.1 360.7 567.6 363.3 562.8 361.6 C558.0 359.9 552.2 356.2 548.5 352.3 C544.8 348.4 541.3 343.5 540.3 338.0 Z" fill="none" stroke="#8a4888" stroke-width="1.5"/>

<path d="M577.5 361.0 C577.9 359.8 578.2 355.8 580.0 354.0 C581.8 352.2 583.3 352.0 588.0 350.0 C592.7 348.0 601.3 344.0 608.0 342.0 C614.7 340.0 621.8 339.7 628.0 338.0 C634.2 336.3 640.2 334.8 645.0 332.0 C649.8 329.2 655.0 322.8 657.0 321.0" fill="none" stroke="#efcdea" stroke-width="3" stroke-linecap="round" transform="translate(0 2.2)" opacity="0.7"/><path d="M577.5 361.0 C577.9 359.8 578.2 355.8 580.0 354.0 C581.8 352.2 583.3 352.0 588.0 350.0 C592.7 348.0 601.3 344.0 608.0 342.0 C614.7 340.0 621.8 339.7 628.0 338.0 C634.2 336.3 640.2 334.8 645.0 332.0 C649.8 329.2 655.0 322.8 657.0 321.0" fill="none" stroke="#8a4888" stroke-width="1.9" stroke-linecap="round"/>


<g fill="none" stroke="#fbfdf9" stroke-width="1.6" opacity="0.8">
<rect x="87" y="683" width="274" height="143"/><rect x="377" y="683" width="271" height="143"/><rect x="663" y="683" width="274" height="143"/>
<circle cx="278.7" cy="588" r="64.5"/><circle cx="453" cy="628.5" r="40"/><circle cx="586" cy="628.5" r="40.5"/><circle cx="745.5" cy="587.6" r="64.5"/>
</g>
<!-- connectors -->
<path d="M475 499.3 H330 Q300 499.3 293 526" fill="none" stroke="#eef9ef" stroke-width="14.8" stroke-linecap="butt" opacity="0.85"/><path d="M475 499.3 H330 Q300 499.3 293 526" fill="none" stroke="#3d7b50" stroke-width="11.8" stroke-linecap="butt"/><path d="M475 499.3 H330 Q300 499.3 293 526" fill="none" stroke="#559c63" stroke-width="9.4" stroke-linecap="butt"/>
<path d="M555 499.3 H700 Q725 499.3 733 526" fill="none" stroke="#fbeef9" stroke-width="14.5" stroke-linecap="butt" opacity="0.85"/><path d="M555 499.3 H700 Q725 499.3 733 526" fill="none" stroke="#6d3066" stroke-width="11.5" stroke-linecap="butt"/><path d="M555 499.3 H700 Q725 499.3 733 526" fill="none" stroke="#984c92" stroke-width="9.1" stroke-linecap="butt"/>
<path d="M515.8 333 V465" fill="none" stroke="#eef9ef" stroke-width="14.0" stroke-linecap="round" opacity="0.85"/><path d="M515.8 333 V465" fill="none" stroke="#3d7b50" stroke-width="11" stroke-linecap="round"/><path d="M515.8 333 V465" fill="none" stroke="#559c63" stroke-width="8.6" stroke-linecap="round"/>
<path d="M515.5 540 V668" fill="none" stroke="#fdf3df" stroke-width="14.0" stroke-linecap="butt" opacity="0.85"/><path d="M515.5 540 V668" fill="none" stroke="#e39c2a" stroke-width="11" stroke-linecap="butt"/><path d="M515.5 540 V668" fill="none" stroke="#eea632" stroke-width="8.6" stroke-linecap="butt"/>
<path d="M494 541 L470 574" fill="none" stroke="#fdf3df" stroke-width="14.0" stroke-linecap="butt" opacity="0.85"/><path d="M494 541 L470 574" fill="none" stroke="#e39c2a" stroke-width="11" stroke-linecap="butt"/><path d="M494 541 L470 574" fill="none" stroke="#f0ab3a" stroke-width="8.6" stroke-linecap="butt"/>
<path d="M543 541 L567 574" fill="none" stroke="#fdf3df" stroke-width="14.0" stroke-linecap="butt" opacity="0.85"/><path d="M543 541 L567 574" fill="none" stroke="#e39c2a" stroke-width="11" stroke-linecap="butt"/><path d="M543 541 L567 574" fill="none" stroke="#f0ab3a" stroke-width="8.6" stroke-linecap="butt"/>
<path d="M232 628 Q220.5 640 220.5 667" fill="none" stroke="#eef9ef" stroke-width="14.5" stroke-linecap="butt" opacity="0.85"/><path d="M232 628 Q220.5 640 220.5 667" fill="none" stroke="#3f8450" stroke-width="11.5" stroke-linecap="butt"/><path d="M232 628 Q220.5 640 220.5 667" fill="none" stroke="#4a9255" stroke-width="9.1" stroke-linecap="butt"/>
<path d="M796 627 Q804 638 803.5 667" fill="none" stroke="#fbeef9" stroke-width="15.0" stroke-linecap="butt" opacity="0.85"/><path d="M796 627 Q804 638 803.5 667" fill="none" stroke="#6f3268" stroke-width="12" stroke-linecap="butt"/><path d="M796 627 Q804 638 803.5 667" fill="none" stroke="#843f8c" stroke-width="9.6" stroke-linecap="butt"/>
<circle cx="447" cy="458.3" r="4.3" fill="#eef3ef"/>
<circle cx="369.4" cy="499.4" r="4.4" fill="#eef3ef"/>
<circle cx="589.8" cy="452.5" r="4.4" fill="#eef3ef"/>
<circle cx="658.4" cy="499.4" r="4.4" fill="#eef3ef"/>
<!-- arrowheads -->
<polygon points="205,666 234.5,666 219.8,684.5" fill="#4a9255"/>
<polygon points="501,665 530,665 515.5,684" fill="#eda52f"/>
<polygon points="789,666 818,666 803.5,684" fill="#843f8c"/>
<polygon points="459,566 482,582 460,589" fill="#eda52f"/>
<polygon points="577.5,566 555,581 576,588.5" fill="#eda52f"/>

<!-- circles -->
<circle cx="278.7" cy="588" r="63.5" fill="#4a9255"/>
<circle cx="453" cy="628.5" r="39" fill="#eda52f"/>
<circle cx="586" cy="628.5" r="39.5" fill="#eda52f"/>
<circle cx="745.5" cy="587.6" r="63.5" fill="#843f8c"/>

<path d="M80 560 C55 480 60 380 80 320 C100 250 150 190 220 150 C290 110 360 85 430 80 C500 75 560 85 620 110 C690 140 740 190 780 250 C820 310 845 380 840 440 C840 500 800 545 760 570 L720 590 C650 620 560 640 470 645 C400 650 330 645 270 640 C200 630 130 610 80 560 Z M220 640 C200 560 210 470 260 420 C320 370 420 360 520 330 C560 320 580 280 580 230 M300 600 C340 560 400 540 460 520 C520 500 580 490 640 460 C690 440 730 400 740 370 M400 520 C450 500 520 500 580 490 M350 590 C400 580 450 570 470 560 M100 300 C140 330 180 340 200 380 C220 420 180 460 160 500 C140 540 160 580 200 600 M150 200 C200 230 240 260 250 330 C250 360 240 390 220 420 M260 170 C300 200 340 230 380 220 C420 210 430 250 410 300 C390 340 360 360 320 380 M390 90 C400 140 420 170 470 180 C500 190 510 240 490 280 M490 90 C490 150 470 200 500 240 M520 100 C540 140 600 150 630 130 M580 160 C590 200 600 240 640 260 C680 280 700 320 700 360 M640 130 C660 180 700 220 750 250 C780 280 780 310 760 330 M700 310 C740 330 790 360 820 400 M640 380 C680 400 700 440 690 480 M760 450 C790 480 800 520 770 560 M130 430 C160 450 180 480 170 520 M90 400 C110 420 120 450 110 480 M300 260 C320 300 300 330 280 350 M470 640 C480 720 540 770 620 770 C700 770 760 720 770 640 C772 610 760 590 740 580 M540 620 L560 760 M540 620 L600 765 M540 620 L640 762 M540 620 L680 750 M540 620 L710 730 M540 620 L740 700 M540 620 L760 670 M540 620 L768 640 M330 645 C350 700 400 760 420 800 C440 850 440 900 445 960 M470 650 C460 700 470 760 480 800 C490 860 490 910 490 960" transform="translate(225 535) scale(0.11715089034676664)" fill="none" stroke="#7fc38c" stroke-width="1.3" vector-effect="non-scaling-stroke" stroke-linecap="round" stroke-linejoin="round"/>
<path d="M80 560 C55 480 60 380 80 320 C100 250 150 190 220 150 C290 110 360 85 430 80 C500 75 560 85 620 110 C690 140 740 190 780 250 C820 310 845 380 840 440 C840 500 800 545 760 570 L720 590 C650 620 560 640 470 645 C400 650 330 645 270 640 C200 630 130 610 80 560 Z M220 640 C200 560 210 470 260 420 C320 370 420 360 520 330 C560 320 580 280 580 230 M300 600 C340 560 400 540 460 520 C520 500 580 490 640 460 C690 440 730 400 740 370 M400 520 C450 500 520 500 580 490 M350 590 C400 580 450 570 470 560 M100 300 C140 330 180 340 200 380 C220 420 180 460 160 500 C140 540 160 580 200 600 M150 200 C200 230 240 260 250 330 C250 360 240 390 220 420 M260 170 C300 200 340 230 380 220 C420 210 430 250 410 300 C390 340 360 360 320 380 M390 90 C400 140 420 170 470 180 C500 190 510 240 490 280 M490 90 C490 150 470 200 500 240 M520 100 C540 140 600 150 630 130 M580 160 C590 200 600 240 640 260 C680 280 700 320 700 360 M640 130 C660 180 700 220 750 250 C780 280 780 310 760 330 M700 310 C740 330 790 360 820 400 M640 380 C680 400 700 440 690 480 M760 450 C790 480 800 520 770 560 M130 430 C160 450 180 480 170 520 M90 400 C110 420 120 450 110 480 M300 260 C320 300 300 330 280 350 M470 640 C480 720 540 770 620 770 C700 770 760 720 770 640 C772 610 760 590 740 580 M540 620 L560 760 M540 620 L600 765 M540 620 L640 762 M540 620 L680 750 M540 620 L710 730 M540 620 L740 700 M540 620 L760 670 M540 620 L768 640 M330 645 C350 700 400 760 420 800 C440 850 440 900 445 960 M470 650 C460 700 470 760 480 800 C490 860 490 910 490 960" transform="translate(420.4 595.7) scale(0.0703)" fill="none" stroke="#f8cc72" stroke-width="1.1" vector-effect="non-scaling-stroke" stroke-linecap="round" stroke-linejoin="round"/>
<path d="M80 560 C55 480 60 380 80 320 C100 250 150 190 220 150 C290 110 360 85 430 80 C500 75 560 85 620 110 C690 140 740 190 780 250 C820 310 845 380 840 440 C840 500 800 545 760 570 L720 590 C650 620 560 640 470 645 C400 650 330 645 270 640 C200 630 130 610 80 560 Z M220 640 C200 560 210 470 260 420 C320 370 420 360 520 330 C560 320 580 280 580 230 M300 600 C340 560 400 540 460 520 C520 500 580 490 640 460 C690 440 730 400 740 370 M400 520 C450 500 520 500 580 490 M350 590 C400 580 450 570 470 560 M100 300 C140 330 180 340 200 380 C220 420 180 460 160 500 C140 540 160 580 200 600 M150 200 C200 230 240 260 250 330 C250 360 240 390 220 420 M260 170 C300 200 340 230 380 220 C420 210 430 250 410 300 C390 340 360 360 320 380 M390 90 C400 140 420 170 470 180 C500 190 510 240 490 280 M490 90 C490 150 470 200 500 240 M520 100 C540 140 600 150 630 130 M580 160 C590 200 600 240 640 260 C680 280 700 320 700 360 M640 130 C660 180 700 220 750 250 C780 280 780 310 760 330 M700 310 C740 330 790 360 820 400 M640 380 C680 400 700 440 690 480 M760 450 C790 480 800 520 770 560 M130 430 C160 450 180 480 170 520 M90 400 C110 420 120 450 110 480 M300 260 C320 300 300 330 280 350 M470 640 C480 720 540 770 620 770 C700 770 760 720 770 640 C772 610 760 590 740 580 M540 620 L560 760 M540 620 L600 765 M540 620 L640 762 M540 620 L680 750 M540 620 L710 730 M540 620 L740 700 M540 620 L760 670 M540 620 L768 640 M330 645 C350 700 400 760 420 800 C440 850 440 900 445 960 M470 650 C460 700 470 760 480 800 C490 860 490 910 490 960" transform="translate(552.3 595.7) scale(0.0703)" fill="none" stroke="#f8cc72" stroke-width="1.1" vector-effect="non-scaling-stroke" stroke-linecap="round" stroke-linejoin="round"/>
<g transform="translate(704 530) scale(1 1) translate(-704 -530)" stroke-linejoin="round"><path d="M722.5 532 Q728.5 528 735 531.5 L735.5 569 L723 571 Q721 550 722.5 532 Z" fill="#ad80b1" stroke="#65306a" stroke-width="0.7"/><path d="M725 536 L725.5 566" stroke="#dcc0de" stroke-width="2" opacity="0.6" fill="none"/><path d="M742.5 546 L742.8 534 Q745 531.5 747 534 L747.3 546 Z M752.3 546 L752.6 534 Q755 531.5 757.5 534 L757.5 548 Z" fill="#ad80b1" stroke="#65306a" stroke-width="0.6"/><path d="M733 572 C734 560 735 552 740 547 C745 542 752 541 758 543 C764 545 768 551 768 560 L767 568 L759 566 C760 560 758 556 754 555.5 C749 555.5 747 559 746.5 566 L746 570 Z" fill="#ad80b1" stroke="#65306a" stroke-width="0.7"/><path d="M738 562 C739 552 746 545 755 545" stroke="#dcc0de" stroke-width="2.2" fill="none" opacity="0.55" stroke-linecap="round"/><ellipse cx="718" cy="583" rx="14" ry="17" fill="#cfaad1" stroke="#65306a" stroke-width="0.7"/><path d="M772 566 C777 563 782 563 788 566 M773 574 C778 572 783 573 787.5 576.5 M776 560 L785 556" stroke="#ad80b1" stroke-width="3.2" fill="none" stroke-linecap="round"/><path d="M709 592 C712 582 728 578 746 580 C760 581 774 582 779 590 C782 602 779 615 774 626 C769 636 764 641 761 643 C748 640 733 632 722 622 C713 613 707 602 709 592 Z" fill="#bd92c0" stroke="#65306a" stroke-width="0.8"/><path d="M720 594 C730 588 745 588 752 592 C750 608 748 620 746 632 C736 625 726 614 720 594 Z" fill="#cfaad1" opacity="0.6"/><path d="M760 594 C766 592 772 596 773 604 C771 615 767 626 762 634 C760 620 759 606 760 594 Z" fill="#cfaad1" opacity="0.4"/><path d="M741 578 C744 570 752 563 762 558 C768 555 773 552 776.5 550.5 L778.5 559.5 C773 562 768 566 764 570 C759 575 755 580 751 583 Z" fill="#cfaad1" stroke="#65306a" stroke-width="0.7"/><ellipse cx="768" cy="579" rx="8" ry="6.5" fill="#cfaad1" stroke="#65306a" stroke-width="0.6"/><path d="M735 578 C738 592 742 605 746 619 M741 596 L732 604 M744 608 L736 615 M767 590 C765 603 760 618 757 633 M763 604 L754 611 M760 618 L752 625 M766 598 L773 609" stroke="#65306a" stroke-width="1.3" fill="none" stroke-linecap="round"/></g>
<!-- boxes -->

<rect x="88" y="684" width="272" height="141" fill="#4a8f56"/>
<rect x="378" y="684" width="269" height="141" fill="#eda42b"/>
<rect x="664" y="684" width="272" height="141" fill="#7f3e87"/>

<!-- box text -->
<g stroke-width="0.9">
<text x="135" y="747" font-size="28" fill="#f2fbef" stroke="#f2fbef" textLength="171" lengthAdjust="spacingAndGlyphs">Ventral Vagal</text>
<text x="152.5" y="778" font-size="23" fill="#f2fbef" stroke="#f2fbef" stroke-width="0.7" textLength="149" lengthAdjust="spacingAndGlyphs">safety &amp; social</text>
<text x="170" y="804" font-size="23" fill="#f2fbef" stroke="#f2fbef" stroke-width="0.7" textLength="114" lengthAdjust="spacingAndGlyphs">connection</text>
<text x="425" y="746.5" font-size="28" fill="#fff6e0" stroke="#fff6e0" textLength="178" lengthAdjust="spacingAndGlyphs">Sympholustiy</text>
<text x="441" y="784" font-size="23" fill="#fff6e0" stroke="#fff6e0" stroke-width="0.7" textLength="146" lengthAdjust="spacingAndGlyphs">Fight or flight</text>
<text x="718.5" y="747" font-size="28" fill="#fbeef8" stroke="#fbeef8" textLength="161" lengthAdjust="spacingAndGlyphs">Dorsal Vagal</text>
<text x="120" y="856" font-size="24" fill="#3f7b4c" stroke="#3f7b4c" stroke-width="0.8" textLength="220" lengthAdjust="spacingAndGlyphs">treen cal connection</text>
<text x="703.5" y="857" font-size="24" fill="#1e1e1e" stroke="#1e1e1e" stroke-width="0.8" textLength="190" lengthAdjust="spacingAndGlyphs">colappe and and</text>
<text x="733" y="887" font-size="24" fill="#1e1e1e" stroke="#1e1e1e" stroke-width="0.8" textLength="134" lengthAdjust="spacingAndGlyphs">dissociation</text>
</g>
</svg>
<div class="ring"></div>
<div class="inner"></div>
<svg width="1024" height="1024" viewBox="0 0 1024 1024"><path d="M499 495 C495 490 494 484 498 482 C502 480 505 483 504 487 C503 491 500 492 499 488 M503 484 C506 482 508 484 507 488 L506 494" fill="none" stroke="#b08a3a" stroke-width="1.5" stroke-linecap="round"/><g transform="translate(500 482) scale(0.44 0.405) translate(-704 -530)" stroke-linejoin="round"><path d="M722.5 532 Q728.5 528 735 531.5 L735.5 569 L723 571 Q721 550 722.5 532 Z" fill="#f0b040" stroke="#c07a1c" stroke-width="0.7"/><path d="M725 536 L725.5 566" stroke="#fde08a" stroke-width="2" opacity="0.6" fill="none"/><path d="M742.5 546 L742.8 534 Q745 531.5 747 534 L747.3 546 Z M752.3 546 L752.6 534 Q755 531.5 757.5 534 L757.5 548 Z" fill="#f0b040" stroke="#c07a1c" stroke-width="0.6"/><path d="M733 572 C734 560 735 552 740 547 C745 542 752 541 758 543 C764 545 768 551 768 560 L767 568 L759 566 C760 560 758 556 754 555.5 C749 555.5 747 559 746.5 566 L746 570 Z" fill="#f0b040" stroke="#c07a1c" stroke-width="0.7"/><path d="M738 562 C739 552 746 545 755 545" stroke="#fde08a" stroke-width="2.2" fill="none" opacity="0.55" stroke-linecap="round"/><ellipse cx="718" cy="583" rx="14" ry="17" fill="#f9cf5a" stroke="#c07a1c" stroke-width="0.7"/><path d="M772 566 C777 563 782 563 788 566 M773 574 C778 572 783 573 787.5 576.5 M776 560 L785 556" stroke="#f0b040" stroke-width="3.2" fill="none" stroke-linecap="round"/><path d="M709 592 C712 582 728 578 746 580 C760 581 774 582 779 590 C782 602 779 615 774 626 C769 636 764 641 761 643 C748 640 733 632 722 622 C713 613 707 602 709 592 Z" fill="#f0a632" stroke="#c07a1c" stroke-width="0.8"/><path d="M720 594 C730 588 745 588 752 592 C750 608 748 620 746 632 C736 625 726 614 720 594 Z" fill="#f9cf5a" opacity="0.6"/><path d="M760 594 C766 592 772 596 773 604 C771 615 767 626 762 634 C760 620 759 606 760 594 Z" fill="#f9cf5a" opacity="0.4"/><path d="M741 578 C744 570 752 563 762 558 C768 555 773 552 776.5 550.5 L778.5 559.5 C773 562 768 566 764 570 C759 575 755 580 751 583 Z" fill="#f9cf5a" stroke="#c07a1c" stroke-width="0.7"/><ellipse cx="768" cy="579" rx="8" ry="6.5" fill="#f9cf5a" stroke="#c07a1c" stroke-width="0.6"/><path d="M735 578 C738 592 742 605 746 619 M741 596 L732 604 M744 608 L736 615 M767 590 C765 603 760 618 757 633 M763 604 L754 611 M760 618 L752 625 M766 598 L773 609" stroke="#c07a1c" stroke-width="1.3" fill="none" stroke-linecap="round"/></g></svg>
</body></html>
